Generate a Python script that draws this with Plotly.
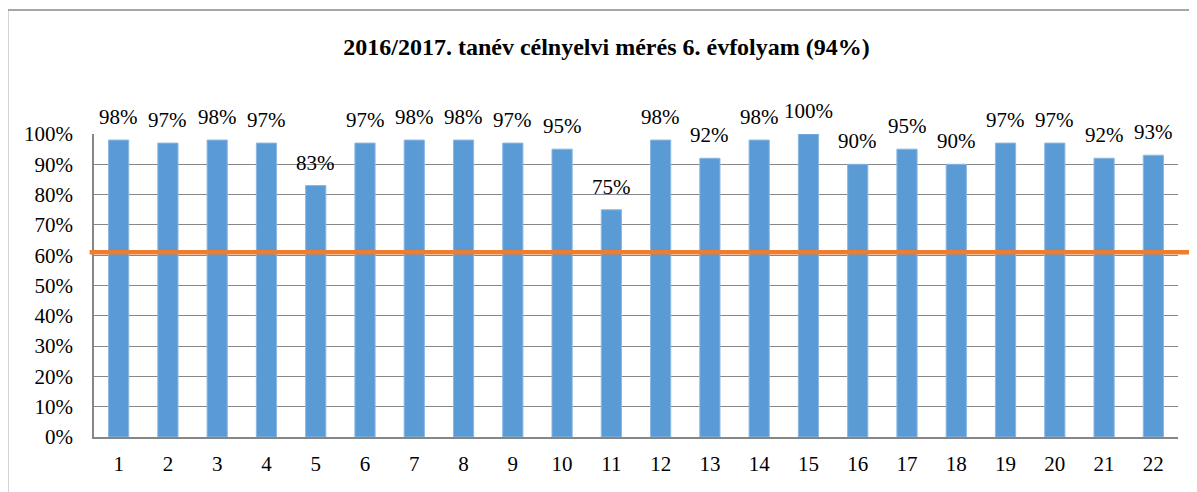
import plotly.graph_objects as go

categories = list(range(1, 23))
values = [0.98, 0.97, 0.98, 0.97, 0.83, 0.97, 0.98, 0.98, 0.97, 0.95, 0.75,
          0.98, 0.92, 0.98, 1.00, 0.90, 0.95, 0.90, 0.97, 0.97, 0.92, 0.93]
labels = ["98%", "97%", "98%", "97%", "83%", "97%", "98%", "98%", "97%", "95%", "75%",
          "98%", "92%", "98%", "100%", "90%", "95%", "90%", "97%", "97%", "92%", "93%"]
threshold = 0.61
title = "2016/2017. tanév célnyelvi mérés 6. évfolyam (94%)"

FONT = "Liberation Serif, Times New Roman, serif"

fig = go.Figure()
fig.add_trace(go.Bar(
    x=categories, y=values,
    marker=dict(color="#5B9BD5", line=dict(color="#8AB8E3", width=1)),
    width=0.41,
    hoverinfo="skip",
))

for c, v, t in zip(categories, values, labels):
    fig.add_annotation(x=c, y=v, text=t, showarrow=False, xref="x", yref="y",
                       yanchor="middle", yshift=23,
                       font=dict(family=FONT, size=21, color="#000000"))

# orange reference line
fig.add_shape(type="line", xref="paper", yref="y", x0=-0.004, x1=1.03,
              y0=threshold, y1=threshold, line=dict(color="#ED7D31", width=4.5), layer="above")

# outer chart border
fig.add_shape(type="rect", xref="paper", yref="paper", x0=-0.0798, x1=1.2,
              y0=-0.5, y1=1.409, line=dict(color="#A6A6A6", width=2), layer="below")

fig.update_layout(
    width=1197, height=492,
    margin=dict(l=86.4, r=27.4, t=126, b=63),
    paper_bgcolor="white", plot_bgcolor="white",
    showlegend=False,
    title=dict(text="<b>" + title + "</b>", x=0.5, xanchor="center", y=1 - 39 / 492,
               yanchor="middle", font=dict(family=FONT, size=24, color="#000000")),
    font=dict(family=FONT, size=21, color="#000000"),
)
fig.update_xaxes(
    range=[0.5, 22.5], tickmode="array", tickvals=categories,
    ticktext=[str(c) for c in categories],
    showgrid=False, showline=True, linecolor="#868686", linewidth=1.5, zeroline=False,
    ticks="", ticklabelstandoff=7,
    tickfont=dict(family=FONT, size=21, color="#000000"),
)
fig.update_yaxes(
    range=[0, 1], dtick=0.1, tickformat=".0%", showgrid=True, gridcolor="#868686",
    gridwidth=1.2, showline=True, linecolor="#868686", linewidth=1.5, zeroline=False,
    ticks="", ticklabelstandoff=15,
    tickfont=dict(family=FONT, size=21, color="#000000"),
)

fig.write_html("out.html")
